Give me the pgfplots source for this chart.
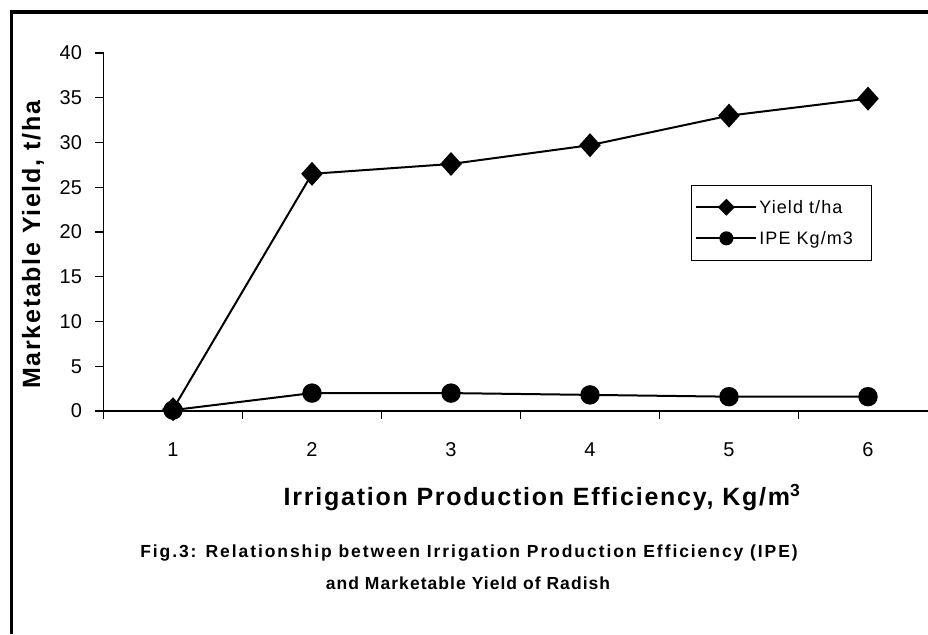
\documentclass[border=0pt]{standalone}
\usepackage{fontspec}
\setmainfont{Liberation Sans}
\newfontfamily\capfont[LetterSpace=11]{Liberation Sans}
\newfontfamily\capfontb[LetterSpace=6]{Liberation Sans}
\newfontfamily\labfont[LetterSpace=7]{Liberation Sans}
\newfontfamily\legfont[LetterSpace=6]{Liberation Sans}
\usepackage{pgfplots}
\pgfplotsset{compat=1.18}
\begin{document}
\begin{tikzpicture}
\useasboundingbox (0pt,0pt) rectangle (928pt,634pt);
\draw[line width=3.5pt] (11.5pt,0pt) -- (11.5pt,621.75pt) -- (930pt,621.75pt);
\begin{axis}[
  at={(103.5pt,223pt)}, anchor=origin,
  scale only axis, width=834pt, height=358pt,
  xmin=0, xmax=6, ymin=0, ymax=40,
  axis x line*=bottom, axis y line*=left,
  x axis line style={line width=2.5pt,-},
  y axis line style={line width=1.4pt,-},
  xtick={0.5,1.5,2.5,3.5,4.5,5.5},
  xticklabels={1,2,3,4,5,6},
  minor xtick={0,1,2,3,4,5,6},
  ytick={0,5,10,15,20,25,30,35,40},
  tick align=outside, tick pos=left,
  major tick length=8pt, minor tick length=8pt,
  xtick style={draw=none},
  minor x tick style={line width=1.2pt, draw=black},
  y tick style={line width=1.2pt, black},
  /pgf/number format/assume math mode=true,
  xticklabel style={font=\fontsize{20}{20}\selectfont, yshift=-20pt},
  yticklabel style={font=\fontsize{20}{20}\selectfont, xshift=-10pt},
  clip=false,
  legend style={at={(0.7044,0.631)}, anchor=north west, draw=black, line width=0.8pt,
    font=\fontsize{18}{18}\legfont, inner xsep=4pt, inner ysep=12.5pt, row sep=12.5pt},
  legend cell align=left,
]
\addplot[black, line width=2pt, mark=diamond*, mark size=10.5pt, mark options={xscale=1.2},
  legend image code/.code={\draw[black,line width=2pt] (0pt,0pt) -- (60pt,0pt);
    \fill[black] (30pt,0pt) ++(0,7pt) -- ++(7pt,-7pt) -- ++(-7pt,-7pt) -- ++(-7pt,7pt) -- cycle;}]
  coordinates {(0.5,0.2) (1.5,26.5) (2.5,27.6) (3.5,29.7) (4.5,33.0) (5.5,34.9)};
\addlegendentry{\makebox[106pt][l]{Yield t/ha}}
\addplot[black, line width=2pt, mark=*, mark size=8.7pt,
  legend image code/.code={\draw[black,line width=2pt] (0pt,0pt) -- (60pt,0pt);
    \fill[black] (30pt,0pt) circle (6pt);}]
  coordinates {(0.5,0.1) (1.5,2.0) (2.5,2.0) (3.5,1.8) (4.5,1.6) (5.5,1.6)};
\addlegendentry{\makebox[106pt][l]{IPE Kg/m3}}
\end{axis}
\node[rotate=90, font=\fontsize{25}{25}\labfont\bfseries] at (33pt,389pt) {Marketable Yield, t/ha};
\node[font=\fontsize{25}{25}\labfont\bfseries] at (542pt,136pt) {Irrigation Production Efficiency, Kg/m\textsuperscript{3}};
\node[font=\fontsize{17.5}{17.5}\capfont\bfseries] at (469pt,81pt) {Fig.3: Relationship between Irrigation Production Efficiency (IPE)};
\node[font=\fontsize{17.5}{17.5}\capfontb\bfseries] at (468pt,51pt) {and Marketable Yield of Radish};
\end{tikzpicture}
\end{document}
